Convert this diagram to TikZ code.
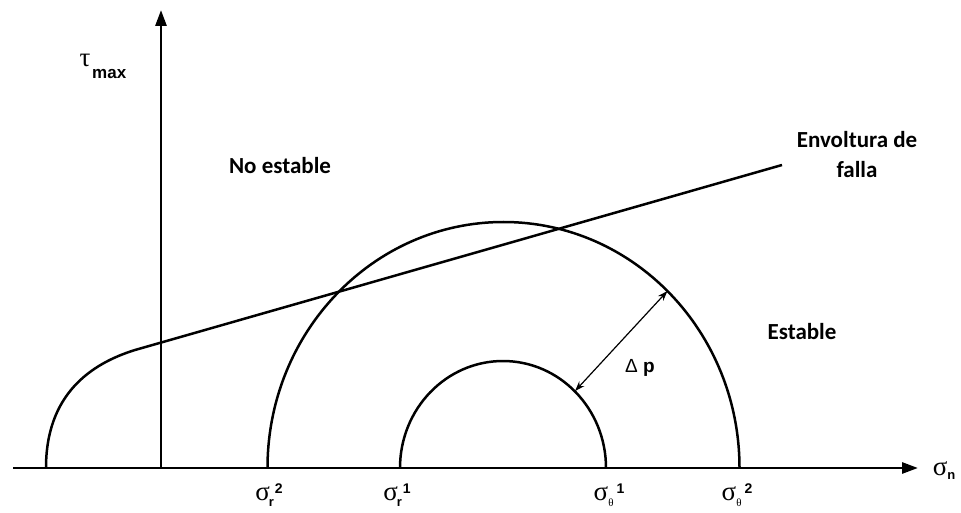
\documentclass[tikz,border=0pt]{standalone}
\usepackage{fontspec}
\setmainfont{Liberation Sans}
\newfontfamily\carl{Carlito}
\newfontfamily\grk{Liberation Serif}
\usetikzlibrary{arrows.meta}
\newcommand{\sigl}[2]{{\grk\fontsize{27}{30}\selectfont σ}\kern-1pt\raisebox{-6pt}{\bfseries\fontsize{13}{15}\selectfont #1}\kern1pt\raisebox{7pt}{\bfseries\fontsize{14}{16}\selectfont #2}}
\newcommand{\sigt}[1]{{\grk\fontsize{27}{30}\selectfont σ}\raisebox{-6pt}{\grk\fontsize{11}{12}\selectfont θ}\kern3pt\raisebox{7pt}{\bfseries\fontsize{14}{16}\selectfont #1}}
\begin{document}
\begin{tikzpicture}[x=1pt,y=1pt,
  curve/.style={line width=2.5pt},
  axis/.style={line width=2.8pt,-{Triangle[length=16pt,width=11pt]}},
  dparrow/.style={line width=1.2pt,{Stealth[length=10pt,width=7pt]}-{Stealth[length=10pt,width=7pt]}},
  region/.style={font=\carl\bfseries\fontsize{23}{30}\selectfont},
  tick/.style={anchor=base,inner sep=0pt}]
\useasboundingbox (0,0) rectangle (961,512);
% axes
\coordinate (xs) at (13,44);
\coordinate (xe) at (918,44);
\coordinate (ys) at (161,44);
\coordinate (ye) at (161,502);
\draw[axis] (xs) -- (xe);
\draw[axis] (ys) -- (ye);
% failure envelope
\coordinate (e0) at (46,44);
\coordinate (e1) at (135,162);
\coordinate (e2) at (782,347);
\draw[curve] (e0) .. controls (46,117) and (90,148) .. (e1) -- (e2);
% Mohr circles
\coordinate (c) at (503.5,44);
\draw[curve] (267.5,44) arc[start angle=180,end angle=0,x radius=236,y radius=246];
\draw[curve] (400,44) arc[start angle=180,end angle=0,x radius=103,y radius=107];
% delta p
\path (c) ++(46:103 and 107) coordinate (pa);
\path (c) ++(46:236 and 246) coordinate (pb);
\draw[dparrow] (pa) -- (pb);
\node (dp) at (640,144) {\fontsize{19}{22}\selectfont Δ \textbf{p}};
% region labels
\node[region] (ne) at (280,346) {No estable};
\node[region] (st) at (802,180) {Estable};
\node[region,align=center] (env) at (857,357) {Envoltura de\\falla};
% axis labels
\node[inner sep=0pt] (tau) at (85,452) {\grk\fontsize{27}{30}\selectfont τ};
\node[inner sep=0pt,anchor=west] (max) at (92,438) {\bfseries\fontsize{17}{20}\selectfont max};
\node[tick] (sn) at (944,37) {{\grk\fontsize{27}{30}\selectfont σ}\raisebox{-4pt}{\bfseries\fontsize{13}{15}\selectfont n}};
\node[tick] (sr2) at (269,12) {\sigl{r}{2}};
\node[tick] (sr1) at (397,12) {\sigl{r}{1}};
\node[tick] (st1) at (609,12) {\sigt{1}};
\node[tick] (st2) at (737,12) {\sigt{2}};
\end{tikzpicture}
\end{document}
